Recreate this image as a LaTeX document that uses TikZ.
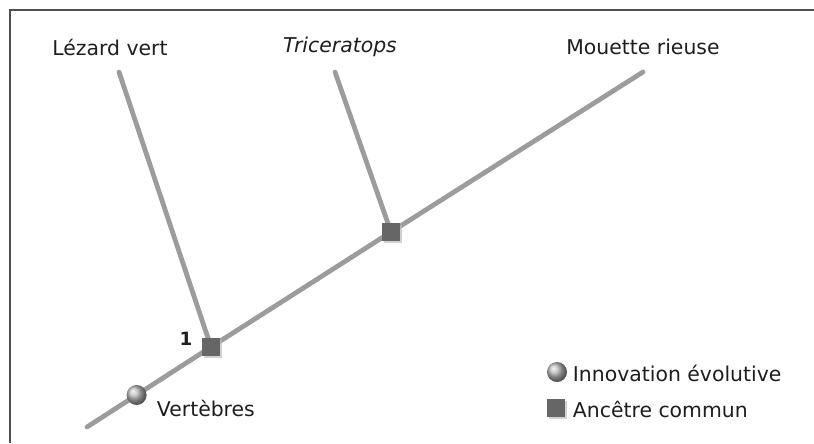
\documentclass[tikz,border=0pt]{standalone}
\usepackage{fontspec}
\setmainfont{DejaVu Sans}
\usetikzlibrary{calc,backgrounds,shadows}
\definecolor{BranchGray}{HTML}{9C9C9C}
\definecolor{NodeGray}{HTML}{666666}
\definecolor{FrameGray}{HTML}{505050}
\definecolor{TextGray}{HTML}{1E1E1E}

\begin{document}
\begin{tikzpicture}[x=.025cm,y=-.025cm,font=\fontsize{14.5}{17}\selectfont,text=TextGray,
  branch/.style={BranchGray,line width=3.4pt,line cap=round},
  ancestor/.style={fill=NodeGray,inner sep=0pt,minimum size=.45cm,
    drop shadow={fill=black!25,opacity=.7,shadow xshift=1.6pt,shadow yshift=-1.6pt}},
  innov/.style={circle,inner sep=0pt,minimum size=.5cm,shading=ball,ball color=gray!55},
  leaf/.style={inner sep=1pt}]
  \useasboundingbox (0,0) rectangle (814,443);
  \draw[FrameGray,line width=1.1pt] (814,10)--(10,10)--(10,443);
  % branch ends
  \coordinate (root) at (87,427);
  \coordinate (tipL) at (119,72);\coordinate (tipT) at (335,72);\coordinate (tipM) at (643,72);
  \node[ancestor] (a1) at (211,347) {};
  \node[ancestor] (a2) at (391,232) {};
  \node[innov] (vert) at ($(root)!.4!(a1)$) {};
  \begin{scope}[on background layer]
    \draw[branch] (root)--(a1.center)--(a2.center)--(tipM);
    \draw[branch] (tipL)--(a1.center); \draw[branch] (tipT)--(a2.center);
  \end{scope}
  % labels
  \node[leaf] (lezard) at (110,47) {Lézard vert};
  \node[leaf] (trice) at (340,47) {\itshape Triceratops};
  \node[leaf] (mouette) at (643,47) {Mouette rieuse};
  \node[font=\fontsize{13}{15}\selectfont\bfseries] (n1) at (186,339) {1};
  \node[anchor=west] (vlab) at (152,408) {Vertèbres};
  % legend
  \node[innov] (kinnov) at (557,372) {};\node[anchor=west] (tinnov) at (568,373) {Innovation évolutive};
  \node[ancestor] (kanc) at (556,408) {};\node[anchor=west] (tanc) at (568,409) {Ancêtre commun};
\end{tikzpicture}
\end{document}
